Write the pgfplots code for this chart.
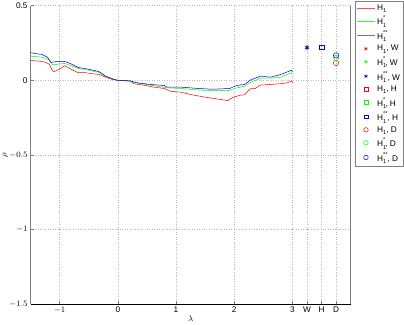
\documentclass[border=0pt]{standalone}
\usepackage{fontspec}
\setmainfont{Liberation Sans}
\usepackage{pgfplots}
\pgfplotsset{compat=1.18}
\newcommand{\sm}{\fontsize{5.5}{6}\selectfont}
\newcommand{\Hs}[1]{H\rlap{\raisebox{-0.55ex}{\sm 1}}\raisebox{1.15ex}{\sm #1}}
\newcommand{\Ho}{H\raisebox{-0.55ex}{\sm 1}}
\begin{document}
\fontsize{8}{9}\selectfont
\begin{tikzpicture}
\begin{axis}[
  scale only axis,
  width=310pt, height=289pt,
  xmin=-1.5, xmax=4, ymin=-1.5, ymax=0.5,
  clip=false,
  xtick={-1,0,1,2,3,3.25,3.5,3.75},
  xticklabels={$-1$,0,1,2,3,W,H,D},
  ytick={-1.5,-1,-0.5,0,0.5},
  yticklabels={$-1.5$,$-1$,$-0.5$,0,0.5},
  /pgf/number format/assume math mode=true,
  tick label style={font=\fontsize{8}{9}\selectfont},
  xmajorgrids, ymajorgrids,
  grid style={dotted, gray!55, line width=0.4pt},
  axis x line*=bottom, axis y line*=left,
  x axis line style={black, line width=0.6pt, -},
  y axis line style={gray, line width=1pt, -},
  tick style={gray, line width=0.4pt},
  tick align=inside,
  major tick length=3pt,
  xlabel={$\lambda$}, ylabel={$\rho$},
  xlabel style={yshift=3pt},
  ylabel style={yshift=-4pt},
  legend cell align=left,
  legend style={at={(1.013,1.017)}, anchor=north west,
    font=\fontsize{8}{9}\selectfont, row sep=0.3pt, inner sep=1.5pt,
    draw=gray, line width=0.8pt, fill=white},
]
\draw[gray, line width=1pt] (rel axis cs:1,0) -- (rel axis cs:1,1);
\addplot[red, line width=0.5pt, forget plot] coordinates {
(-1.5,0.132) (-1.40,0.130) (-1.33,0.127) (-1.25,0.122) (-1.18,0.109) (-1.12,0.0625) (-1.09,0.058) (-1.05,0.066) (-1.0,0.074) (-0.95,0.088) (-0.915,0.097) (-0.855,0.086) (-0.77,0.067) (-0.68,0.051) (-0.56,0.051) (-0.44,0.044) (-0.32,0.039) (-0.21,0.021) (-0.09,0.005) (0,0) (0.21,-0.004) (0.27,-0.023) (0.44,-0.032) (0.62,-0.046) (0.80,-0.055) (0.91,-0.074) (1.09,-0.080) (1.27,-0.097) (1.50,-0.113) (1.74,-0.127) (1.89,-0.136) (1.98,-0.115) (2.10,-0.100) (2.18,-0.097) (2.27,-0.057) (2.36,-0.055) (2.45,-0.032) (2.62,-0.028) (2.80,-0.023) (2.92,-0.016) (2.98,-0.004) (3.0,-0.016)
};
\addplot[green, line width=0.5pt, forget plot] coordinates {
(-1.5,0.162) (-1.31,0.155) (-1.18,0.137) (-1.12,0.104) (-1.0,0.109) (-0.915,0.113) (-0.80,0.097) (-0.68,0.079) (-0.50,0.067) (-0.32,0.053) (-0.21,0.025) (-0.06,0.005) (0,0) (0.21,-0.007) (0.32,-0.018) (0.56,-0.032) (0.85,-0.051) (1.09,-0.055) (1.39,-0.065) (1.63,-0.070) (1.92,-0.067) (2.04,-0.051) (2.18,-0.040) (2.27,-0.016) (2.45,0.014) (2.62,0.014) (2.80,0.021) (2.98,0.051) (3.0,0.039)
};
\addplot[blue, line width=0.5pt, forget plot] coordinates {
(-1.5,0.185) (-1.40,0.178) (-1.31,0.174) (-1.21,0.155) (-1.15,0.120) (-1.06,0.125) (-0.915,0.127) (-0.80,0.109) (-0.68,0.086) (-0.50,0.074) (-0.32,0.058) (-0.21,0.028) (-0.06,0.005) (0,0) (0.21,-0.004) (0.32,-0.016) (0.56,-0.028) (0.80,-0.035) (0.85,-0.046) (1.09,-0.046) (1.39,-0.055) (1.63,-0.060) (1.92,-0.055) (2.04,-0.035) (2.18,-0.028) (2.27,0.0) (2.45,0.028) (2.62,0.021) (2.80,0.039) (2.98,0.067) (3.0,0.058)
};
\addplot[red, only marks, mark=asterisk, mark size=2.2pt, line width=0.5pt, forget plot] coordinates {(3.25,0.222)};
\addplot[green, only marks, mark=asterisk, mark size=2.2pt, line width=0.5pt, forget plot] coordinates {(3.25,0.220)};
\addplot[blue, only marks, mark=asterisk, mark size=2.2pt, line width=0.5pt, forget plot] coordinates {(3.25,0.218)};
\addplot[red, only marks, mark=square, mark size=2.2pt, line width=0.5pt, forget plot] coordinates {(3.5,0.222)};
\addplot[green, only marks, mark=square, mark size=2.2pt, line width=0.5pt, forget plot] coordinates {(3.5,0.221)};
\addplot[blue, only marks, mark=square, mark size=2.2pt, line width=0.5pt, forget plot] coordinates {(3.5,0.220)};
\addplot[red, only marks, mark=o, mark size=2.6pt, line width=0.5pt, forget plot] coordinates {(3.75,0.116)};
\addplot[green, only marks, mark=o, mark size=2.6pt, line width=0.5pt, forget plot] coordinates {(3.75,0.150)};
\addplot[blue, only marks, mark=o, mark size=2.6pt, line width=0.5pt, forget plot] coordinates {(3.75,0.167)};
\addlegendimage{red!70, line width=0.7pt}
\addlegendentry{\Ho}
\addlegendimage{green!80, line width=0.7pt}
\addlegendentry{\Hs{*}}
\addlegendimage{blue!60, line width=0.7pt}
\addlegendentry{\Hs{**}}
\addlegendimage{red, only marks, mark=asterisk, mark size=1.8pt, line width=0.5pt}
\addlegendentry{\Ho, W}
\addlegendimage{green, only marks, mark=asterisk, mark size=1.8pt, line width=0.5pt}
\addlegendentry{\Hs{*}, W}
\addlegendimage{blue, only marks, mark=asterisk, mark size=1.8pt, line width=0.5pt}
\addlegendentry{\Hs{**}, W}
\addlegendimage{red, only marks, mark=square, mark size=1.8pt, line width=0.5pt}
\addlegendentry{\Ho, H}
\addlegendimage{green, only marks, mark=square, mark size=1.8pt, line width=0.5pt}
\addlegendentry{\Hs{*}, H}
\addlegendimage{blue, only marks, mark=square, mark size=1.8pt, line width=0.5pt}
\addlegendentry{\Hs{**}, H}
\addlegendimage{red, only marks, mark=o, mark size=2.2pt, line width=0.5pt}
\addlegendentry{\Ho, D}
\addlegendimage{green, only marks, mark=o, mark size=2.2pt, line width=0.5pt}
\addlegendentry{\Hs{*}, D}
\addlegendimage{blue, only marks, mark=o, mark size=2.2pt, line width=0.5pt}
\addlegendentry{\Hs{**}, D}
\end{axis}
\end{tikzpicture}
\end{document}
